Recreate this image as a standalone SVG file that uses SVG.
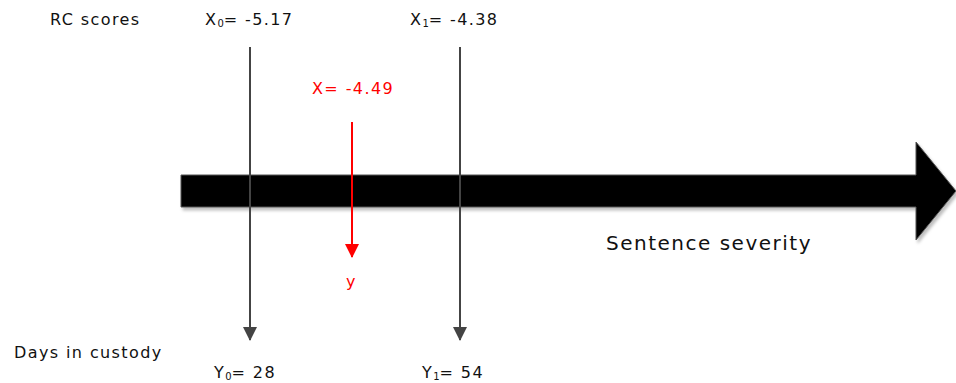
<svg xmlns="http://www.w3.org/2000/svg" width="956" height="383" viewBox="0 0 956 383">
<style>
text{font-family:"DejaVu Sans","Liberation Sans",sans-serif;font-size:16px;letter-spacing:1.4px;fill:#111}
.red{fill:#f00}
.sub{font-size:10px;letter-spacing:0}
.big{font-size:20px;letter-spacing:1.5px}
.gl{stroke:#444;stroke-width:2;fill:none}
.rl{stroke:#f00;stroke-width:2;fill:none}
</style>
<defs>
<marker id="ga" markerWidth="14" markerHeight="14" refX="13" refY="7" orient="auto" markerUnits="userSpaceOnUse">
<path d="M0,0 L14,7 L0,14 Z" fill="#444"/>
</marker>
<marker id="ra" markerWidth="14" markerHeight="14" refX="13" refY="7" orient="auto" markerUnits="userSpaceOnUse">
<path d="M0,0 L14,7 L0,14 Z" fill="#f00"/>
</marker>
<filter id="sh" x="-5%" y="-20%" width="110%" height="150%">
<feDropShadow dx="2" dy="3" stdDeviation="1.5" flood-color="#000" flood-opacity="0.25"/>
</filter>
</defs>
<g id="severity-arrow">
<path d="M181,175 L916,175 L916,142 L956,191 L916,240 L916,207 L181,207 Z" fill="#000" stroke="#555" stroke-width="1" filter="url(#sh)"/>
<text class="big" x="606" y="250">Sentence severity</text>
</g>
<g id="connectors">
<line class="gl" x1="250" y1="47" x2="250" y2="340" marker-end="url(#ga)"/>
<line class="gl" x1="460" y1="47" x2="460" y2="340" marker-end="url(#ga)"/>
<line class="rl" x1="352" y1="122" x2="352" y2="257" marker-end="url(#ra)"/>
</g>
<g id="labels-left">
<text x="50" y="25">RC scores</text>
<text x="14" y="358">Days in custody</text>
</g>
<g id="x0">
<text x="205" y="25">X<tspan class="sub" dy="2">0</tspan><tspan dy="-2">= -5.17</tspan></text>
</g>
<g id="x1">
<text x="410" y="25">X<tspan class="sub" dy="2">1</tspan><tspan dy="-2">= -4.38</tspan></text>
</g>
<g id="x">
<text class="red" x="312" y="94">X= -4.49</text>
<text class="red" x="346" y="287">y</text>
</g>
<g id="y0">
<text x="214" y="378">Y<tspan class="sub" dy="2">0</tspan><tspan dy="-2">= 28</tspan></text>
</g>
<g id="y1">
<text x="422" y="378">Y<tspan class="sub" dy="2">1</tspan><tspan dy="-2">= 54</tspan></text>
</g>
</svg>
